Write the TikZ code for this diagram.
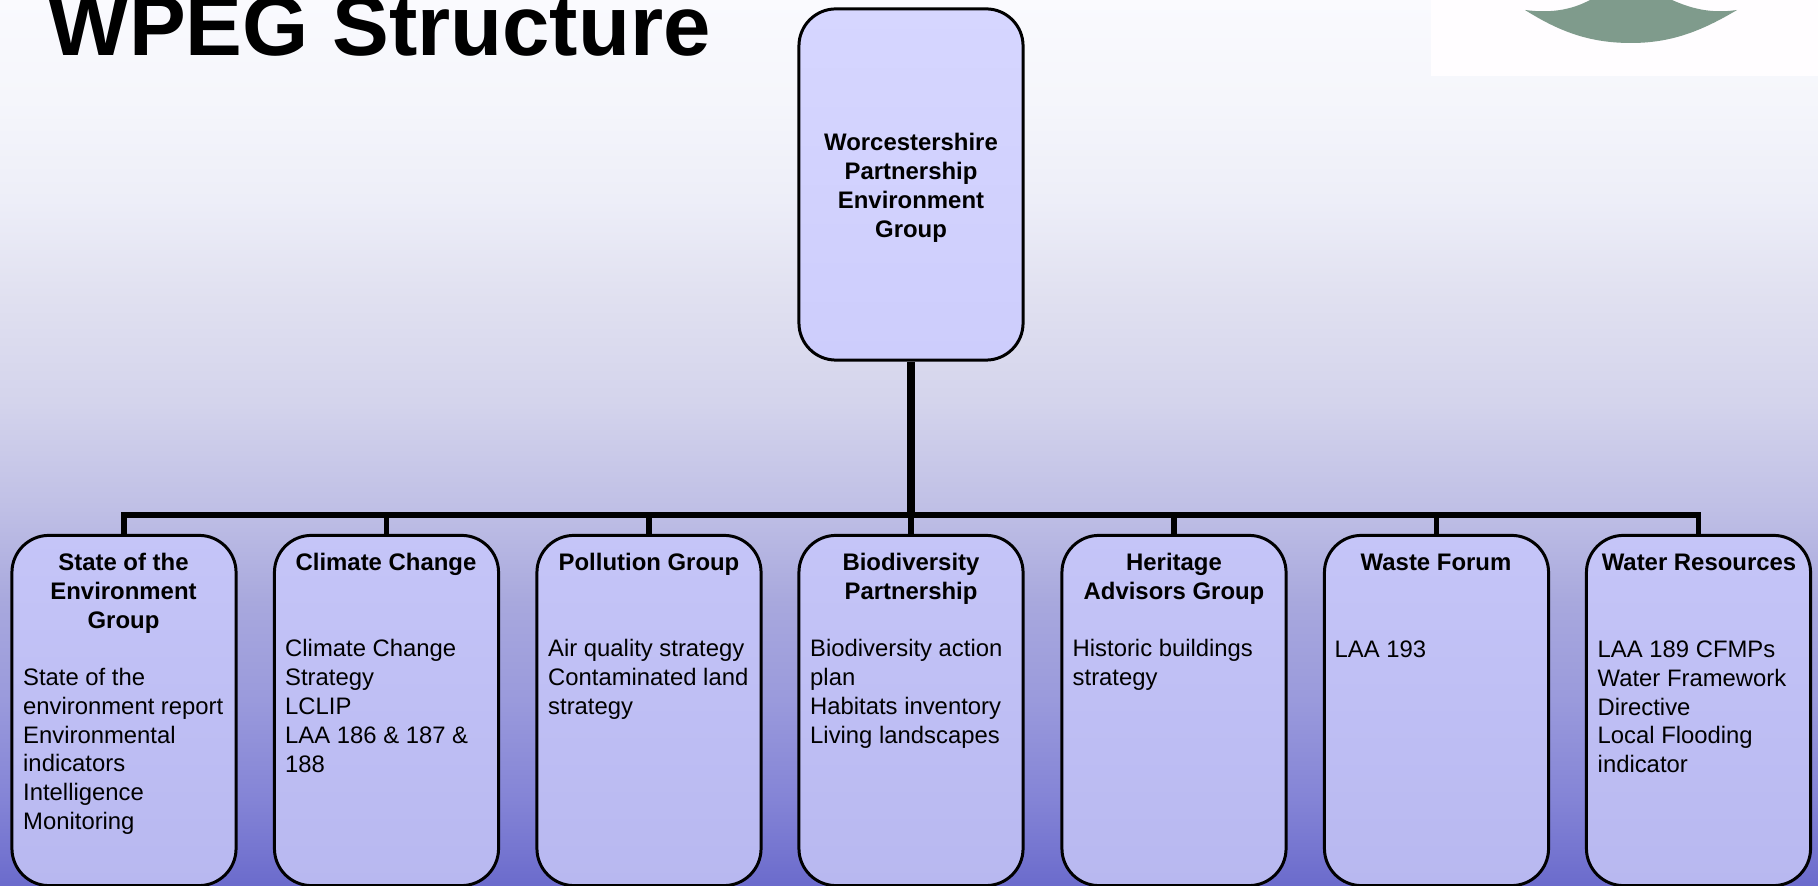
\documentclass[tikz,border=0pt]{standalone}
\usepackage{fontspec}
\setmainfont{Liberation Sans}
\definecolor{bg0}{HTML}{6B6BCC}
\definecolor{bg1}{HTML}{8484D6}
\definecolor{bg2}{HTML}{9A9ADC}
\definecolor{bg3}{HTML}{A8A8DD}
\definecolor{bg4}{HTML}{C0C0E6}
\definecolor{bg5}{HTML}{D4D4EC}
\definecolor{bg6}{HTML}{E0E0F0}
\definecolor{bg7}{HTML}{EDEEF8}
\definecolor{bg8}{HTML}{F5F6FB}
\definecolor{bg9}{HTML}{FAFAFE}
\definecolor{logopaper}{HTML}{FFFDFF}
\definecolor{logoleaf}{HTML}{7F9B8C}
\definecolor{topfilla}{HTML}{D6D6FF}
\definecolor{topfillb}{HTML}{CDCDFC}
\definecolor{lowfilla}{HTML}{C5C5F8}
\definecolor{lowfillb}{HTML}{B8B8F0}
\pgfdeclareverticalshading{backdrop}{100bp}{
  color(0bp)=(bg0); color(25bp)=(bg0); color(29.9bp)=(bg1); color(35.5bp)=(bg2);
  color(41bp)=(bg3); color(46.5bp)=(bg4); color(52.4bp)=(bg5); color(58.1bp)=(bg6);
  color(63.7bp)=(bg7); color(69.4bp)=(bg8); color(75bp)=(bg9); color(100bp)=(bg9)}
\begin{document}
\begin{tikzpicture}[x=0.01cm,y=-0.01cm]
	\tikzstyle{group}=[rectangle,rounded corners=0.37cm,draw=black,line width=0.85pt,minimum width=2.24cm,inner sep=0pt]
	\tikzstyle{topbox}=[group,minimum height=3.51cm,top color=topfilla,bottom color=topfillb]
	\tikzstyle{lowbox}=[group,minimum height=3.5cm,top color=lowfilla,bottom color=lowfillb]
	\tikzstyle{head}=[font=\fontsize{6.8}{8.2}\selectfont\bfseries,align=center,inner sep=0pt,anchor=north]
	\tikzstyle{body}=[font=\fontsize{6.78}{8.2}\selectfont,align=left,inner sep=0pt,anchor=north west]
	\tikzstyle{edge}=[draw,line width=1.55pt]
	\useasboundingbox (0,0) rectangle (1818,886);
	\clip (0,0) rectangle (1818,886);
	\shade[shading=backdrop] (0,0) rectangle (1818,886);
	% logo
	\fill[logopaper] (1431,0) rectangle (1818,76);
	\fill[logoleaf] (1525,10) .. controls (1555,14) and (1575,8) .. (1590,0) -- (1672,0) .. controls (1690,8) and (1710,14) .. (1737,10) .. controls (1700,32) and (1670,43) .. (1631,43) .. controls (1590,43) and (1560,32) .. (1525,10) -- cycle;
	\node[font=\fontsize{24.2}{28}\selectfont\bfseries,inner sep=0pt,anchor=base west] (title) at (48,56) {WPEG Structure};
	\begin{scope}
		\node [topbox] (boss) at (911,184.5) {};
		\node [lowbox] (g1) at (124,710.5) {};
		\node [lowbox] (g2) at (386.5,710.5) {};
		\node [lowbox] (g3) at (649,710.5) {};
		\node [lowbox] (g4) at (911,710.5) {};
		\node [lowbox] (g5) at (1174,710.5) {};
		\node [lowbox] (g6) at (1436.5,710.5) {};
		\node [lowbox] (g7) at (1698.5,710.5) {};
		\coordinate (bus) at (911,515);
		\path[edge,line width=2pt] (boss) -- (bus);
		\path[edge] (bus) -| (g1);
		\path[edge] (bus) -| (g2);
		\path[edge] (bus) -| (g3);
		\path[edge] (bus) -- (g4);
		\path[edge] (bus) -| (g5);
		\path[edge] (bus) -| (g6);
		\path[edge] (bus) -| (g7);
	\end{scope}
	\node [head] (bosstext) at (911,132.5) {Worcestershire\\Partnership\\Environment\\Group};
	\node [head] (h1) at (123.5,552.5) {State of the\\Environment\\Group};
	\node [head] (h2) at (386,552.5) {Climate Change};
	\node [head] (h3) at (649,552.5) {Pollution Group};
	\node [head] (h4) at (911,552.5) {Biodiversity\\Partnership};
	\node [head] (h5) at (1174,552.5) {Heritage\\Advisors Group};
	\node [head] (h6) at (1436,553.5) {Waste Forum};
	\node [head] (h7) at (1699,553.5) {Water Resources};
	\node [body] (b1) at (22.5,667.5) {State of the\\environment report\\Environmental\\indicators\\Intelligence\\Monitoring};
	\node [body] (b2) at (284.5,639) {Climate Change\\Strategy\\LCLIP\\LAA 186 \& 187 \&\\188};
	\node [body] (b3) at (547.5,639) {Air quality strategy\\Contaminated land\\strategy};
	\node [body] (b4) at (809.5,639) {Biodiversity action\\plan\\Habitats inventory\\Living landscapes};
	\node [body] (b5) at (1072,639) {Historic buildings\\strategy};
	\node [body] (b6) at (1334,640) {LAA 193};
	\node [body] (b7) at (1597,640) {LAA 189 CFMPs\\Water Framework\\Directive\\Local Flooding\\indicator};
\end{tikzpicture}
\end{document}
